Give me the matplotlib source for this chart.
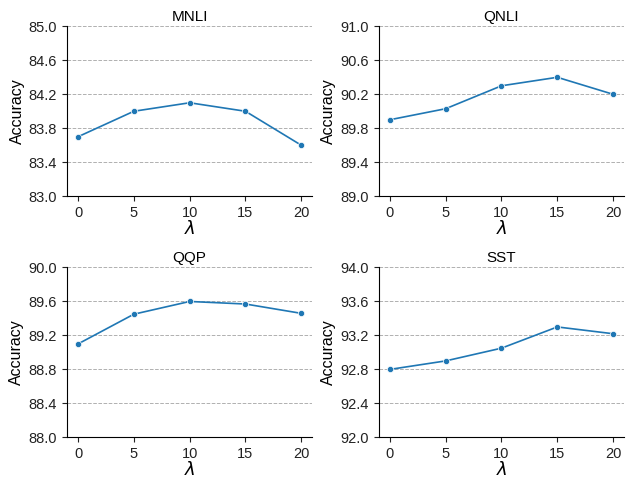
import matplotlib
matplotlib.use("Agg")
import matplotlib.pyplot as plt
import numpy as np

plt.rcParams['font.family'] = ['Liberation Sans', 'DejaVu Sans']

lambdas = [0, 5, 10, 15, 20]
tasks = ["MNLI", "QNLI", "QQP", "SST"]
mnli = [83.7, 84.0, 84.1, 84.0, 83.6]
qnli = [89.9, 90.03, 90.3, 90.4, 90.2]
qqp = [89.1, 89.45, 89.6, 89.57, 89.46]
sst = [92.8, 92.9, 93.05, 93.3, 93.22]
values = [mnli, qnli, qqp, sst]
ylims = [(83.0, 85.0), (89.0, 91.0), (88.0, 90.0), (92.0, 94.0)]

fig, axes = plt.subplots(2, 2, figsize=(6.37, 4.79), dpi=100)
for ax, name, vals, (lo, hi) in zip(axes.flat, tasks, values, ylims):
    ax.plot(lambdas, vals, color='#1f77b4', marker='o', markersize=4.5,
            markeredgecolor='white', markeredgewidth=0.5, linewidth=1.2, zorder=3)
    ax.set_ylim(lo, hi)
    ticks = np.arange(lo, hi + 0.001, 0.4)
    ax.set_yticks(ticks)
    ax.set_yticklabels([f"{t:.1f}" for t in ticks])
    ax.set_xticks(lambdas)
    ax.set_xlim(-1, 21)
    ax.set_title(name, fontsize=11, pad=4)
    ax.set_xlabel(r'$\lambda$', fontsize=13, labelpad=0)
    ax.set_ylabel('Accuracy', fontsize=11.5, labelpad=3)
    ax.grid(axis='y', linestyle='--', color='#b0b0b0', linewidth=0.7)
    ax.set_axisbelow(True)
    ax.spines['top'].set_visible(False)
    ax.spines['right'].set_visible(False)
    ax.tick_params(labelsize=10.5, colors='#222222')

fig.subplots_adjust(left=0.105, right=0.98, top=0.945, bottom=0.087, wspace=0.27, hspace=0.42)
fig.savefig('out.png', dpi=100)
